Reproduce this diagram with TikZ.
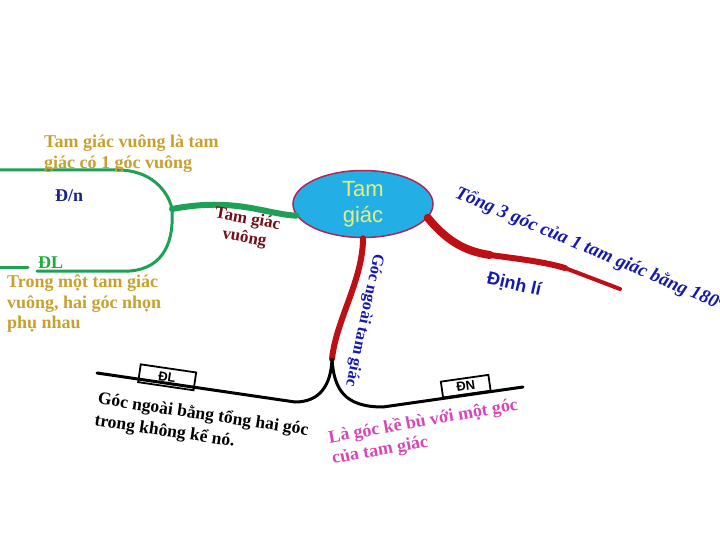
\documentclass[tikz,border=0pt]{standalone}
\usepackage{fontspec}
\setmainfont{Liberation Serif}
\setsansfont{Liberation Sans}
\usetikzlibrary{shapes.geometric}

\definecolor{topicfill}{RGB}{35,175,230}
\definecolor{topicborder}{RGB}{170,40,90}
\definecolor{topictext}{RGB}{230,240,120}
\definecolor{mapgreen}{RGB}{30,160,85}
\definecolor{mapred}{RGB}{190,15,20}
\definecolor{defgold}{RGB}{200,160,45}
\definecolor{dnnavy}{RGB}{25,35,135}
\definecolor{tgvmaroon}{RGB}{115,15,25}
\definecolor{dlgreen}{RGB}{35,170,60}
\definecolor{mapblue}{RGB}{20,25,175}
\definecolor{mapmagenta}{RGB}{215,70,185}

\begin{document}
\begin{tikzpicture}
 [ x=1pt, y=-1pt
 , topic/.style={ellipse, draw=topicborder, line width=1.5pt, fill=topicfill,
     text=topictext, minimum width=140pt, minimum height=67pt, inner sep=0pt,
     align=center, font=\sffamily\fontsize{22}{26}\selectfont}
 , green branch/.style={draw=mapgreen, line cap=round}
 , red branch/.style={draw=mapred, line cap=round}
 , black branch/.style={draw=black, line width=3pt, line cap=round}
 , tag/.style={draw, line width=1.8pt, inner sep=0pt,
     font=\sffamily\bfseries\fontsize{13}{13}\selectfont}
 , note/.style={inner sep=0pt, align=left, font=\bfseries\fontsize{18}{20.5}\selectfont}
 ]
  \useasboundingbox (0,0) rectangle (720,540);

  % centre
  \node [topic] (tg) at (363,204) {Tam\\giác};

  % left: tam giac vuong
  \coordinate (gj) at (172,209);
  \coordinate (gdef) at (0,170);
  \coordinate (gdl) at (37,271);
  \coordinate (gdl left) at (0,267);
  \coordinate (gdl stop) at (28,267);
  \draw [green branch, line width=6pt] (tg.190) .. controls (265,214) and (235,197) .. (gj);
  \draw [green branch, line width=3pt] (gj) .. controls (168,190) and (150,170) .. (118,170) -- (gdef);
  \draw [green branch, line width=3pt] (gj) .. controls (174,240) and (165,268) .. (130,271) -- (gdl);
  \draw [green branch, line width=3pt] (gdl left) -- (gdl stop);
  \node [note, text=tgvmaroon, align=center, rotate=-10, font=\bfseries\fontsize{17}{19}\selectfont]
    (tgv) at (246,229) {Tam giác\\vuông};
  \node [note, text=defgold, anchor=north west] (dn text) at (44,135)
    {Tam giác vuông là tam\\giác có 1 góc vuông};
  \node [note, text=dnnavy, anchor=base west] (dn) at (55,202) {Đ/n};
  \node [note, text=dlgreen, anchor=base west] (dl) at (38,268) {ĐL};
  \node [note, text=defgold, anchor=north west] (dl text) at (7,275)
    {Trong một tam giác\\vuông, hai góc nhọn\\phụ nhau};

  % bottom: goc ngoai
  \coordinate (rfork) at (332,359);
  \coordinate (dlend) at (97,373);
  \coordinate (dnend) at (523,387);
  \draw [red branch, line width=6pt] (tg.south) .. controls (363,280) and (336,320) .. (rfork);
  \draw [black branch] (dlend) -- node [tag, pos=0.35, sloped, above=-4pt,
      minimum width=56pt, minimum height=18pt] (dl box) {ĐL}
    (295,402) .. controls (320,402) and (331,385) .. (rfork);
  \draw [black branch] (rfork) .. controls (334,390) and (345,407) .. (383,407)
    -- node [tag, pos=0.6, sloped, above=0pt, minimum width=48pt, minimum height=16pt]
      (dn box) {ĐN} (dnend);
  \node [note, text=mapblue, rotate=-102, font=\bfseries\fontsize{16.5}{18}\selectfont]
    (gn) at (364,320) {Góc ngoài tam giác};
  \node [note, anchor=north west, rotate=-8.5, font=\bfseries\fontsize{17.6}{22}\selectfont]
    (dl note) at (99,391) {Góc ngoài bằng tổng hai góc\\trong không kể nó.};
  \node [note, text=mapmagenta, anchor=north west, rotate=10, font=\bfseries\fontsize{18}{21}\selectfont]
    (dn note) at (327,430) {Là góc kề bù với một góc\\của tam giác};

  % right: dinh li tong 3 goc
  \coordinate (rmid) at (490,255);
  \coordinate (rbend) at (565,268);
  \coordinate (rtip) at (620,289);
  \draw [red branch, line width=8pt] (tg.348) .. controls (450,245) and (470,252) .. (rmid);
  \draw [red branch, line width=6pt] (rmid) .. controls (520,259) and (545,262) .. (rbend);
  \draw [red branch, line width=4pt] (rbend) -- (rtip);
  \node [note, text=mapblue, anchor=base west, rotate=-23,
      font=\bfseries\itshape\fontsize{19}{19}\selectfont]
    (tong) at (454,197) {Tổng 3 góc của 1 tam giác bằng 180\textsuperscript{0}};
  \node [note, text=mapblue, rotate=-13, font=\sffamily\bfseries\fontsize{18}{18}\selectfont]
    (dinhli) at (514,285) {Định lí};
\end{tikzpicture}
\end{document}
